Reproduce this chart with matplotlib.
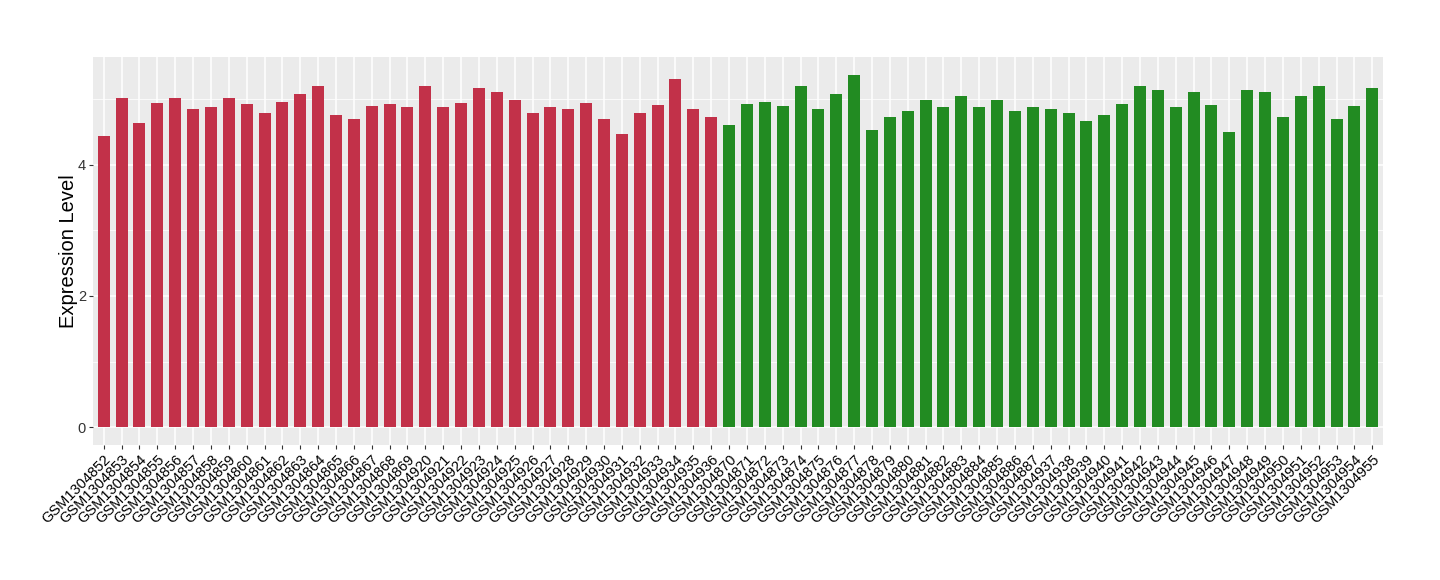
import matplotlib
matplotlib.use('Agg')
import matplotlib.pyplot as plt
from matplotlib.ticker import MultipleLocator

plt.rcParams['font.family'] = ['Liberation Sans', 'DejaVu Sans']

# Probennamen (Gruppe 1 rot, Gruppe 2 grün)
samples_red = (['GSM%d' % n for n in range(1304852, 1304870)] +
               ['GSM%d' % n for n in range(1304920, 1304937)])
samples_green = (['GSM%d' % n for n in range(1304870, 1304888)] +
                 ['GSM%d' % n for n in range(1304937, 1304956)])

values_red = [4.43, 5.02, 4.64, 4.94, 5.02, 4.84, 4.88, 5.01, 4.93, 4.78,
              4.96, 5.07, 5.20, 4.75, 4.69, 4.90, 4.93, 4.87, 5.19, 4.87,
              4.94, 5.17, 5.10, 4.99, 4.78, 4.88, 4.84, 4.94, 4.70, 4.47,
              4.79, 4.91, 5.31, 4.85, 4.73]
values_green = [4.60, 4.93, 4.96, 4.90, 5.19, 4.85, 5.07, 5.37, 4.52, 4.73,
                4.82, 4.99, 4.87, 5.05, 4.87, 4.99, 4.82, 4.88, 4.84, 4.78,
                4.67, 4.75, 4.93, 5.20, 5.14, 4.87, 5.10, 4.91, 4.49, 5.13,
                5.11, 4.73, 5.04, 5.20, 4.70, 4.90, 5.17]

color_red = '#C23149'
color_green = '#228B22'

labels = samples_red + samples_green
values = values_red + values_green
colors = [color_red] * len(samples_red) + [color_green] * len(samples_green)
x = list(range(1, len(labels) + 1))

fig = plt.figure(figsize=(14.4, 5.8), dpi=100)
ax = fig.add_axes([93 / 1440, 1 - 445 / 580, 1290 / 1440, 388 / 580])

ax.set_facecolor('#EBEBEB')
ax.bar(x, values, width=0.67, color=colors, zorder=3)

ymax = max(values) * 1.05
ax.set_ylim(-0.05 * max(values), ymax)
ax.set_xlim(0.4, len(labels) + 0.6)

ax.yaxis.set_major_locator(MultipleLocator(2))
ax.yaxis.set_minor_locator(MultipleLocator(1))
ax.set_xticks(x)
ax.set_xticklabels(labels, rotation=45, ha='right', va='top',
                   rotation_mode='anchor', fontsize=10.5, color='black')
ax.tick_params(axis='y', labelsize=10.5, labelcolor='#333333')
ax.tick_params(axis='both', which='major', length=3, width=0.8,
               color='#333333', pad=2)
ax.tick_params(axis='y', which='minor', length=0)

ax.grid(True, which='major', color='white', linewidth=1.1, zorder=0)
ax.grid(True, which='minor', axis='y', color='white', linewidth=0.55, zorder=0)
ax.set_axisbelow(True)
for s in ax.spines.values():
    s.set_visible(False)

ax.set_ylabel('Expression Level', fontsize=14.5, labelpad=0)

fig.savefig('out.png', dpi=100)
